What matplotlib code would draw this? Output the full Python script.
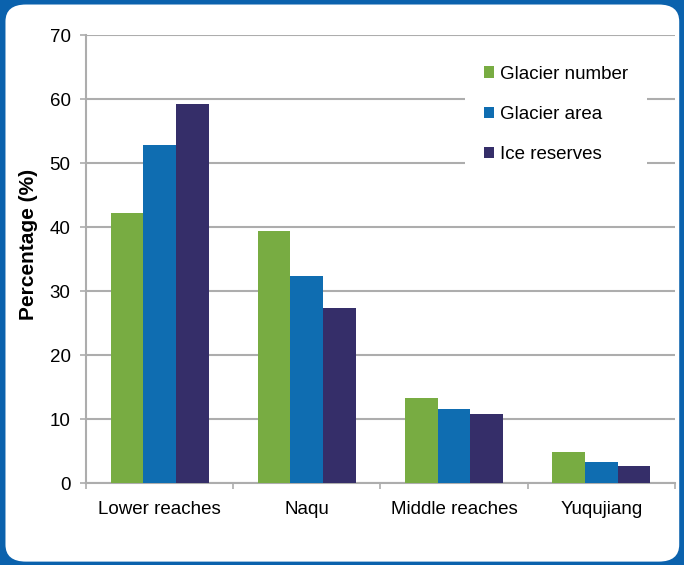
import numpy as np
import matplotlib.pyplot as plt
from matplotlib.patches import FancyBboxPatch

plt.rcParams['font.family'] = ['Liberation Sans', 'DejaVu Sans']

categories = ['Lower reaches', 'Naqu', 'Middle reaches', 'Yuqujiang']
series_names = ['Glacier number', 'Glacier area', 'Ice reserves']
glacier_number = [42.2, 39.4, 13.3, 4.8]
glacier_area = [52.8, 32.3, 11.6, 3.3]
ice_reserves = [59.2, 27.3, 10.8, 2.7]
colors = ['#78ac42', '#0f6db1', '#352e69']


def draw_chart():
    fig = plt.figure(figsize=(6.84, 5.65), dpi=100)
    fig.patch.set_facecolor('#0b62ad')
    # white rounded panel inside the blue frame
    panel = FancyBboxPatch((0.008, 0.006), 0.985, 0.986,
                           boxstyle='round,pad=0,rounding_size=0.03',
                           transform=fig.transFigure, facecolor='white',
                           edgecolor='none', zorder=-10)
    fig.add_artist(panel)

    ax = fig.add_axes([0.1257, 0.145, 0.861, 0.793])
    ax.set_facecolor('none')

    x = np.arange(len(categories))
    w = 1 / 4.5
    data = [glacier_number, glacier_area, ice_reserves]
    for i, (vals, name) in enumerate(zip(data, series_names)):
        ax.bar(x + (i - 1) * w, vals, width=w, color=colors[i], label=name, zorder=3)

    ax.set_xlim(-0.5, len(categories) - 0.5)
    ax.set_ylim(0, 70)
    ax.set_yticks(range(0, 71, 10))
    ax.yaxis.grid(True, color='#adadad', linewidth=1.5, zorder=0)
    ax.set_axisbelow(True)

    # ticks at category boundaries, labels at centres
    ax.set_xticks(np.arange(-0.5, len(categories), 1))
    ax.set_xticklabels([])
    ax.set_xticks(x, minor=True)
    ax.set_xticklabels(categories, minor=True, fontsize=13.5)
    ax.tick_params(axis='x', which='minor', length=0, pad=13)
    ax.tick_params(axis='x', which='major', length=4.5, width=1.2, color='#adadad')
    ax.tick_params(axis='y', length=4.5, width=1.2, color='#adadad', labelsize=13.5, pad=6.5)

    for s in ['top', 'right']:
        ax.spines[s].set_visible(False)
    for s in ['left', 'bottom']:
        ax.spines[s].set_color('#adadad')
        ax.spines[s].set_linewidth(1.5)

    ax.set_ylabel('Percentage (%)', fontsize=15, fontweight='bold')
    ax.yaxis.set_label_coords(-0.0815, 0.532)

    leg = ax.legend(loc='upper left', bbox_to_anchor=(465 / 684, 1 - 47 / 565),
                    bbox_transform=fig.transFigure, frameon=True,
                    fontsize=13.5, handlelength=0.55, handleheight=0.55,
                    handletextpad=0.3, labelspacing=1.23, borderpad=1.0,
                    borderaxespad=0)
    leg.get_frame().set_edgecolor('none')
    leg.get_frame().set_facecolor('white')
    leg.get_frame().set_alpha(1)
    leg.set_zorder(5)

    fig.savefig('out.png', dpi=100, facecolor=fig.get_facecolor())


if __name__ == "__main__":
    draw_chart()
